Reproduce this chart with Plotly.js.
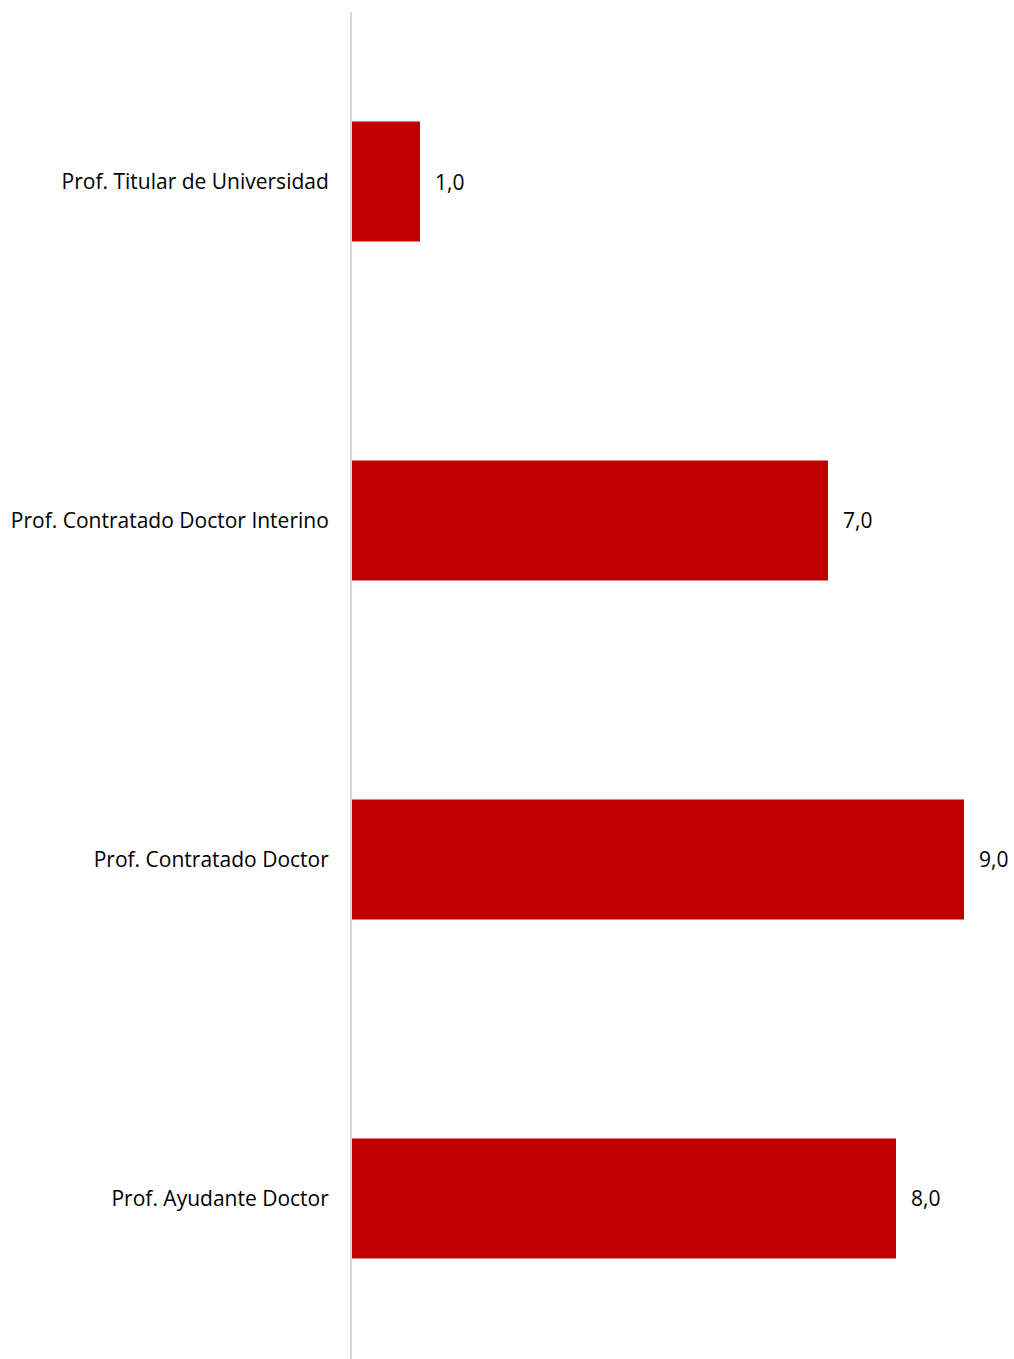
<!DOCTYPE html>
<html><head><meta charset="utf-8">
<script src="https://cdn.plot.ly/plotly-3.0.1.min.js"></script>
<style>html,body{margin:0;padding:0;background:#fff;}#chart{width:1014px;height:1359px;}</style>
</head><body><div id="chart"></div>
<script>
const categories = ["Prof. Ayudante Doctor", "Prof. Contratado Doctor", "Prof. Contratado Doctor Interino", "Prof. Titular de Universidad"];
const values = [8.0, 9.0, 7.0, 1.0];
const valueLabels = values.map(v => v.toFixed(1).replace('.', ','));

const FONT = "Open Sans, sans-serif";
const FS = 21;
const trace = {
  type: 'bar', orientation: 'h',
  x: values, y: categories,
  marker: {color: '#c00000'},
  hoverinfo: 'none'
};
const annotations = values.map((v, i) => ({
  x: v, y: categories[i], xref: 'x', yref: 'y',
  text: valueLabels[i], showarrow: false,
  xanchor: 'left', xshift: 13,
  font: {family: FONT, size: FS, color: '#000'}
}));
const layout = {
  width: 1014, height: 1359,
  margin: {l: 352, r: 16, t: 12, b: 0, pad: 0},
  paper_bgcolor: '#fff', plot_bgcolor: '#fff',
  bargap: 0.646,
  showlegend: false,
  font: {family: FONT, size: FS, color: '#000'},
  xaxis: {range: [0, 9.5], visible: false, fixedrange: true},
  yaxis: {
    type: 'category', categoryorder: 'array', categoryarray: categories,
    range: [-0.4735, 3.5],
    showline: true, linecolor: '#d9d9d9', linewidth: 2,
    showgrid: false, zeroline: false, ticks: '',
    ticklabelstandoff: 17,
    tickfont: {family: FONT, size: FS, color: '#000'}
  },
  annotations: annotations
};
Plotly.newPlot('chart', [trace], layout, {staticPlot: true, displayModeBar: false});
</script></body></html>
